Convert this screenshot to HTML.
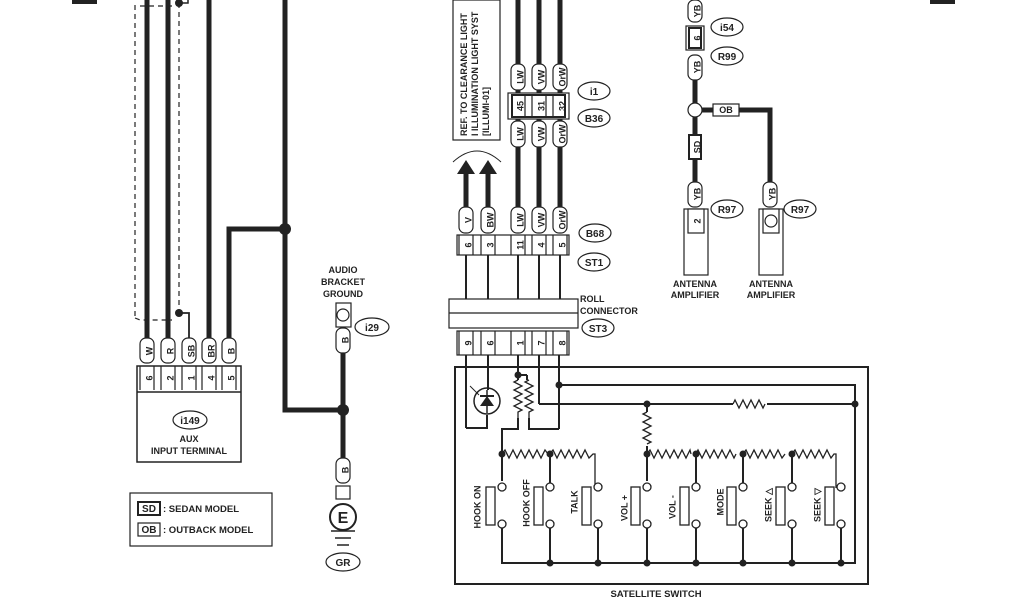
<!DOCTYPE html>
<html><head><style>html,body{margin:0;padding:0;background:#fff}svg{display:block}</style></head><body>
<svg width="1024" height="600" viewBox="0 0 1024 600" xmlns="http://www.w3.org/2000/svg" font-family="Liberation Sans, sans-serif" font-weight="bold">
<rect width="1024" height="600" fill="#fff"/>
<rect x="72" y="0" width="25" height="4" fill="#222"/>
<rect x="930" y="0" width="25" height="4" fill="#222"/>
<g stroke="#222" fill="none">
<line x1="147" y1="0" x2="147" y2="340" stroke-width="5"/>
<line x1="168" y1="0" x2="168" y2="340" stroke-width="5"/>
<line x1="209" y1="0" x2="209" y2="340" stroke-width="5"/>
<polyline points="229,340 229,229 285,229" stroke-width="5"/>
<polyline points="285,0 285,410 343,410" stroke-width="5"/>
<line x1="135" y1="5" x2="135" y2="318" stroke-width="1.2" stroke-dasharray="5,4"/>
<line x1="179" y1="3" x2="179" y2="312" stroke-width="1.2" stroke-dasharray="5,4"/>
<polyline points="135,318 140,320 172,320" stroke-width="1.2" stroke-dasharray="5,4"/>
<polyline points="140,6 172,6" stroke-width="1.2" stroke-dasharray="5,4"/>
<polyline points="179,3 188,3 188,0" stroke-width="1.5"/>
<polyline points="179,313 189,313 189,340" stroke-width="1.8"/>
<line x1="343" y1="350" x2="343" y2="460" stroke-width="5"/>
</g>
<circle cx="179" cy="3" r="4" fill="#222"/><circle cx="179" cy="313" r="4" fill="#222"/>
<circle cx="285" cy="229" r="6" fill="#222"/><circle cx="343" cy="410" r="6" fill="#222"/>
<g stroke="#222" stroke-width="1.2" fill="#fff">
<rect x="140" y="338" width="14" height="25" rx="6"/><rect x="161" y="338" width="14" height="25" rx="6"/>
<rect x="182" y="338" width="14" height="25" rx="6"/><rect x="202" y="338" width="14" height="25" rx="6"/>
<rect x="222" y="338" width="14" height="25" rx="6"/>
<rect x="137" y="366" width="104" height="96" stroke-width="1.5"/>
<line x1="137" y1="392" x2="241" y2="392" stroke-width="1.5"/>
<line x1="140" y1="366" x2="140" y2="390"/><line x1="154" y1="366" x2="154" y2="390"/>
<line x1="161" y1="366" x2="161" y2="390"/><line x1="175" y1="366" x2="175" y2="390"/>
<line x1="182" y1="366" x2="182" y2="390"/><line x1="196" y1="366" x2="196" y2="390"/>
<line x1="202" y1="366" x2="202" y2="390"/><line x1="216" y1="366" x2="216" y2="390"/>
<line x1="222" y1="366" x2="222" y2="390"/><line x1="236" y1="366" x2="236" y2="390"/>
<ellipse cx="190" cy="420" rx="17" ry="9"/>
<rect x="130" y="493" width="142" height="53"/>
<rect x="138" y="502" width="22" height="13" stroke-width="2"/>
<rect x="138" y="523" width="22" height="13"/>
<rect x="336" y="303" width="15" height="24"/><circle cx="343" cy="315" r="6"/>
<rect x="336" y="328" width="14" height="25" rx="6"/>
<ellipse cx="372" cy="327" rx="17" ry="9"/>
<rect x="336" y="458" width="14" height="25" rx="6"/>
<rect x="336" y="486" width="14" height="13"/>
<circle cx="343" cy="517" r="13" stroke-width="2"/>
<ellipse cx="343" cy="562" rx="17" ry="9"/>
</g>
<g stroke="#222" stroke-width="1.5"><line x1="331" y1="531" x2="355" y2="531"/><line x1="335" y1="538" x2="351" y2="538"/><line x1="337" y1="545" x2="349" y2="545"/></g>
<g font-size="9" text-anchor="middle" fill="#222">
<text transform="translate(150,351) rotate(-90)" dominant-baseline="middle">W</text>
<text transform="translate(171,351) rotate(-90)" dominant-baseline="middle">R</text>
<text transform="translate(192,351) rotate(-90)" dominant-baseline="middle">SB</text>
<text transform="translate(212,351) rotate(-90)" dominant-baseline="middle">BR</text>
<text transform="translate(232,351) rotate(-90)" dominant-baseline="middle">B</text>
<text transform="translate(150,378) rotate(-90)" dominant-baseline="middle">6</text>
<text transform="translate(171,378) rotate(-90)" dominant-baseline="middle">2</text>
<text transform="translate(192,378) rotate(-90)" dominant-baseline="middle">1</text>
<text transform="translate(212,378) rotate(-90)" dominant-baseline="middle">4</text>
<text transform="translate(232,378) rotate(-90)" dominant-baseline="middle">5</text>
<text x="190" y="424" font-size="10">i149</text>
<text x="189" y="442">AUX</text>
<text x="189" y="454">INPUT TERMINAL</text>
<text x="149" y="512" font-size="10">SD</text><text x="149" y="533" font-size="10">OB</text>
<text x="343" y="273">AUDIO</text><text x="343" y="285">BRACKET</text><text x="343" y="297">GROUND</text>
<text transform="translate(346,340) rotate(-90)" dominant-baseline="middle">B</text>
<text transform="translate(346,470) rotate(-90)" dominant-baseline="middle">B</text>
<text x="372" y="331" font-size="10">i29</text>
<text x="343" y="523" font-size="16">E</text>
<text x="343" y="566" font-size="10">GR</text>
</g>
<g font-size="9.5" fill="#222"><text x="163" y="512">: SEDAN MODEL</text><text x="163" y="533">: OUTBACK MODEL</text></g>

<rect x="453" y="0" width="47" height="140" fill="#fff" stroke="#222" stroke-width="1.2"/>
<g font-size="9" fill="#222">
<text transform="translate(467,136) rotate(-90)">REF. TO CLEARANCE LIGHT</text>
<text transform="translate(478,136) rotate(-90)">I ILLUMINATION LIGHT SYST</text>
<text transform="translate(489,136) rotate(-90)">[ILLUMI-01]</text>
</g>
<path d="M453,162 Q477,140 501,162" fill="none" stroke="#222" stroke-width="1"/>
<g stroke="#222" fill="none">
<line x1="466" y1="172" x2="466" y2="210" stroke-width="5"/><line x1="488" y1="172" x2="488" y2="210" stroke-width="5"/>
<line x1="518" y1="0" x2="518" y2="210" stroke-width="5"/><line x1="539" y1="0" x2="539" y2="210" stroke-width="5"/><line x1="560" y1="0" x2="560" y2="210" stroke-width="5"/>
<g stroke-width="2"><line x1="466" y1="255" x2="466" y2="300"/><line x1="488" y1="255" x2="488" y2="300"/><line x1="518" y1="255" x2="518" y2="300"/><line x1="539" y1="255" x2="539" y2="300"/><line x1="560" y1="255" x2="560" y2="300"/>
<line x1="466" y1="355" x2="466" y2="428"/><line x1="488" y1="355" x2="488" y2="390"/><line x1="518" y1="355" x2="518" y2="375"/><line x1="539" y1="355" x2="539" y2="404"/><line x1="559" y1="355" x2="559" y2="429"/></g>
</g>
<polygon points="457,174 466,160 475,174" fill="#222"/><polygon points="479,174 488,160 497,174" fill="#222"/>
<g stroke="#222" stroke-width="1.2" fill="#fff">
<rect x="511" y="64" width="14" height="26" rx="6"/><rect x="532" y="64" width="14" height="26" rx="6"/><rect x="553" y="64" width="14" height="26" rx="6"/>
<rect x="508" y="93" width="61" height="26"/><rect x="512" y="95" width="53" height="22" stroke-width="2"/>
<line x1="525" y1="95" x2="525" y2="117"/><line x1="532" y1="95" x2="532" y2="117"/><line x1="546" y1="95" x2="546" y2="117"/><line x1="553" y1="95" x2="553" y2="117"/>
<rect x="511" y="121" width="14" height="26" rx="6"/><rect x="532" y="121" width="14" height="26" rx="6"/><rect x="553" y="121" width="14" height="26" rx="6"/>
<rect x="459" y="207" width="14" height="26" rx="6"/><rect x="481" y="207" width="14" height="26" rx="6"/>
<rect x="511" y="207" width="14" height="26" rx="6"/><rect x="532" y="207" width="14" height="26" rx="6"/><rect x="553" y="207" width="14" height="26" rx="6"/>
<rect x="457" y="235" width="112" height="20"/>
<line x1="459" y1="235" x2="459" y2="255"/><line x1="473" y1="235" x2="473" y2="255"/><line x1="481" y1="235" x2="481" y2="255"/><line x1="495" y1="235" x2="495" y2="255"/><line x1="511" y1="235" x2="511" y2="255"/><line x1="525" y1="235" x2="525" y2="255"/><line x1="532" y1="235" x2="532" y2="255"/><line x1="546" y1="235" x2="546" y2="255"/><line x1="553" y1="235" x2="553" y2="255"/><line x1="567" y1="235" x2="567" y2="255"/>
<rect x="449" y="299" width="129" height="29"/><line x1="449" y1="313" x2="578" y2="313"/>
<rect x="457" y="331" width="112" height="24"/>
<line x1="459" y1="331" x2="459" y2="355"/><line x1="473" y1="331" x2="473" y2="355"/><line x1="481" y1="331" x2="481" y2="355"/><line x1="495" y1="331" x2="495" y2="355"/><line x1="511" y1="331" x2="511" y2="355"/><line x1="525" y1="331" x2="525" y2="355"/><line x1="532" y1="331" x2="532" y2="355"/><line x1="546" y1="331" x2="546" y2="355"/><line x1="553" y1="331" x2="553" y2="355"/><line x1="567" y1="331" x2="567" y2="355"/>
<ellipse cx="594" cy="91" rx="16" ry="9"/><ellipse cx="594" cy="118" rx="16" ry="9"/>
<ellipse cx="595" cy="233" rx="16" ry="9"/><ellipse cx="594" cy="262" rx="16" ry="9"/><ellipse cx="598" cy="328" rx="16" ry="9"/>
</g>
<g font-size="9" text-anchor="middle" fill="#222">
<g dominant-baseline="middle">
<text transform="translate(521,77) rotate(-90)">LW</text><text transform="translate(542,77) rotate(-90)">VW</text><text transform="translate(563,77) rotate(-90)">OrW</text>
<text transform="translate(521,106) rotate(-90)">45</text><text transform="translate(542,106) rotate(-90)">31</text><text transform="translate(563,106) rotate(-90)">32</text>
<text transform="translate(521,134) rotate(-90)">LW</text><text transform="translate(542,134) rotate(-90)">VW</text><text transform="translate(563,134) rotate(-90)">OrW</text>
<text transform="translate(469,220) rotate(-90)">V</text><text transform="translate(491,220) rotate(-90)">BW</text>
<text transform="translate(521,220) rotate(-90)">LW</text><text transform="translate(542,220) rotate(-90)">VW</text><text transform="translate(563,220) rotate(-90)">OrW</text>
<text transform="translate(469,245) rotate(-90)">6</text><text transform="translate(491,245) rotate(-90)">3</text><text transform="translate(521,245) rotate(-90)">11</text><text transform="translate(542,245) rotate(-90)">4</text><text transform="translate(563,245) rotate(-90)">5</text>
<text transform="translate(469,343) rotate(-90)">9</text><text transform="translate(491,343) rotate(-90)">6</text><text transform="translate(521,343) rotate(-90)">1</text><text transform="translate(542,343) rotate(-90)">7</text><text transform="translate(563,343) rotate(-90)">8</text>
</g>
<g font-size="10"><text x="594" y="95">i1</text><text x="594" y="122">B36</text><text x="595" y="237">B68</text><text x="594" y="266">ST1</text><text x="598" y="332">ST3</text></g>
</g>
<g font-size="9" fill="#222"><text x="580" y="302">ROLL</text><text x="580" y="314">CONNECTOR</text></g>

<g stroke="#222" fill="none">
<rect x="455" y="367" width="413" height="217" stroke-width="2"/>
<g stroke-width="2">
<polyline points="466,428 487,428 487,415"/>
<polyline points="559,385 855,385 855,563 502,563 502,530"/>
<polyline points="539,404 733,404"/><polyline points="767,404 855,404"/>
<polyline points="518,375 518,380"/><polyline points="527,375 527,380"/>
<line x1="518" y1="375" x2="527" y2="375"/>
<polyline points="518,418 518,429 502,429 502,481"/>
<polyline points="529,418 529,429 559,429"/>
<line x1="647" y1="404" x2="647" y2="412"/><line x1="647" y1="446" x2="647" y2="481"/>
</g>
<path d="M518,380 l-4,2 l8,4 l-8,4 l8,4 l-8,4 l8,4 l-8,4 l8,4 l-4,2 l0,6" stroke-width="1.3"/>
<path d="M529,380 l-4,2 l8,4 l-8,4 l8,4 l-8,4 l8,4 l-8,4 l8,4 l-4,2 l0,6" stroke-width="1.3"/>
<path d="M733,404 l2,-4 l4,8 l4,-8 l4,8 l4,-8 l4,8 l4,-8 l4,8 l2,-4" stroke-width="1.3"/>
<path d="M647,412 l-4,2 l8,4 l-8,4 l8,4 l-8,4 l8,4 l-8,4 l8,4 l-4,2" stroke-width="1.3"/>
<circle cx="487" cy="401" r="13" stroke-width="1.5"/>
<line x1="487" y1="390" x2="487" y2="413" stroke-width="1.5"/>
<line x1="479" y1="395" x2="470" y2="386" stroke-width="1"/>
</g>
<polygon points="480,406 494,406 487,396" fill="#222"/><line x1="480" y1="396" x2="494" y2="396" stroke="#222" stroke-width="2"/>
<g stroke="#222" fill="none" stroke-width="1.3">
<path d="M502,454 l3,-4 l4,8 l4,-8 l4,8 l4,-8 l4,8 l4,-8 l4,8 l4,-8 l4,8 l4,-8 l3,4 M550,454 l3,-4 l4,8 l4,-8 l4,8 l4,-8 l4,8 l4,-8 l4,8 l4,-8 l4,8 l4,-4 l2,0 l0,34"/>
<path d="M647,454 l3,-4 l4,8 l4,-8 l4,8 l4,-8 l4,8 l4,-8 l4,8 l4,-8 l4,8 l4,-8 l1,4 M696,454 l2,-4 l4,8 l4,-8 l4,8 l4,-8 l4,8 l4,-8 l4,8 l4,-8 l4,8 l2,-4 M743,454 l3,-4 l4,8 l4,-8 l4,8 l4,-8 l4,8 l4,-8 l4,8 l4,-8 l4,8 l3,-4 M792,454 l3,-4 l4,8 l4,-8 l4,8 l4,-8 l4,8 l4,-8 l4,8 l4,-8 l4,8 l3,-4 l2,0 l0,34"/>
<g stroke-width="2"><line x1="550" y1="454" x2="550" y2="483"/><line x1="696" y1="454" x2="696" y2="483"/><line x1="743" y1="454" x2="743" y2="483"/><line x1="792" y1="454" x2="792" y2="483"/>
<line x1="502" y1="528" x2="502" y2="563"/><line x1="550" y1="528" x2="550" y2="563"/><line x1="598" y1="528" x2="598" y2="563"/><line x1="647" y1="528" x2="647" y2="563"/><line x1="696" y1="528" x2="696" y2="563"/><line x1="743" y1="528" x2="743" y2="563"/><line x1="792" y1="528" x2="792" y2="563"/><line x1="841" y1="528" x2="841" y2="563"/></g>
</g>
<g stroke="#222" stroke-width="1.3" fill="#fff">
<circle cx="502" cy="487" r="4"/><circle cx="502" cy="524" r="4"/><rect x="486" y="487" width="9" height="38"/>
<circle cx="550" cy="487" r="4"/><circle cx="550" cy="524" r="4"/><rect x="534" y="487" width="9" height="38"/>
<circle cx="598" cy="487" r="4"/><circle cx="598" cy="524" r="4"/><rect x="582" y="487" width="9" height="38"/>
<circle cx="647" cy="487" r="4"/><circle cx="647" cy="524" r="4"/><rect x="631" y="487" width="9" height="38"/>
<circle cx="696" cy="487" r="4"/><circle cx="696" cy="524" r="4"/><rect x="680" y="487" width="9" height="38"/>
<circle cx="743" cy="487" r="4"/><circle cx="743" cy="524" r="4"/><rect x="727" y="487" width="9" height="38"/>
<circle cx="792" cy="487" r="4"/><circle cx="792" cy="524" r="4"/><rect x="776" y="487" width="9" height="38"/>
<circle cx="841" cy="487" r="4"/><circle cx="841" cy="524" r="4"/><rect x="825" y="487" width="9" height="38"/>
</g>
<g fill="#222">
<circle cx="518" cy="375" r="3.5"/><circle cx="559" cy="385" r="3.5"/><circle cx="647" cy="404" r="3.5"/><circle cx="855" cy="404" r="3.5"/>
<circle cx="502" cy="454" r="3.5"/><circle cx="550" cy="454" r="3.5"/><circle cx="647" cy="454" r="3.5"/><circle cx="696" cy="454" r="3.5"/><circle cx="743" cy="454" r="3.5"/><circle cx="792" cy="454" r="3.5"/>
<circle cx="550" cy="563" r="3.5"/><circle cx="598" cy="563" r="3.5"/><circle cx="647" cy="563" r="3.5"/><circle cx="696" cy="563" r="3.5"/><circle cx="743" cy="563" r="3.5"/><circle cx="792" cy="563" r="3.5"/><circle cx="841" cy="563" r="3.5"/>
</g>
<g font-size="9" text-anchor="middle" fill="#222" dominant-baseline="middle">
<text transform="translate(478,507) rotate(-90)">HOOK ON</text>
<text transform="translate(527,503) rotate(-90)">HOOK OFF</text>
<text transform="translate(575,502) rotate(-90)">TALK</text>
<text transform="translate(625,508) rotate(-90)">VOL +</text>
<text transform="translate(673,507) rotate(-90)">VOL -</text>
<text transform="translate(721,502) rotate(-90)">MODE</text>
<text transform="translate(769,505) rotate(-90)">SEEK △</text>
<text transform="translate(818,505) rotate(-90)">SEEK ▽</text>
</g>
<text x="656" y="597" font-size="9.5" text-anchor="middle" fill="#222">SATELLITE SWITCH</text>

<g stroke="#222" fill="none" stroke-width="5">
<line x1="695" y1="70" x2="695" y2="185"/>
<polyline points="700,110 770,110 770,185"/>
</g>
<g stroke="#222" stroke-width="1.2" fill="#fff">
<rect x="688" y="0" width="14" height="22" rx="6"/>
<rect x="686" y="26" width="18" height="24"/><rect x="689" y="28" width="12" height="20" stroke-width="2"/>
<rect x="688" y="55" width="14" height="25" rx="6"/>
<circle cx="695" cy="110" r="7"/>
<rect x="713" y="104" width="26" height="12"/>
<rect x="689" y="135" width="12" height="24" stroke-width="2"/>
<rect x="688" y="182" width="14" height="25" rx="6"/>
<rect x="763" y="182" width="14" height="25" rx="6"/>
<rect x="684" y="209" width="24" height="66"/><rect x="688" y="209" width="16" height="24"/>
<rect x="759" y="209" width="24" height="66"/><rect x="763" y="209" width="16" height="24"/><circle cx="771" cy="221" r="6"/>
<ellipse cx="727" cy="27" rx="16" ry="9"/><ellipse cx="727" cy="56" rx="16" ry="9"/>
<ellipse cx="727" cy="209" rx="16" ry="9"/><ellipse cx="800" cy="209" rx="16" ry="9"/>
</g>
<g font-size="9" text-anchor="middle" fill="#222">
<g dominant-baseline="middle">
<text transform="translate(698,11) rotate(-90)">YB</text><text transform="translate(698,38) rotate(-90)">6</text>
<text transform="translate(698,67) rotate(-90)">YB</text><text transform="translate(698,147) rotate(-90)">SD</text>
<text transform="translate(698,194) rotate(-90)">YB</text><text transform="translate(773,194) rotate(-90)">YB</text>
<text transform="translate(698,221) rotate(-90)">2</text>
</g>
<text x="726" y="113">OB</text>
<g font-size="10"><text x="727" y="31">i54</text><text x="727" y="60">R99</text><text x="727" y="213">R97</text><text x="800" y="213">R97</text></g>
<text x="695" y="287">ANTENNA</text><text x="695" y="298">AMPLIFIER</text>
<text x="771" y="287">ANTENNA</text><text x="771" y="298">AMPLIFIER</text>
</g>
</svg>
</body></html>
